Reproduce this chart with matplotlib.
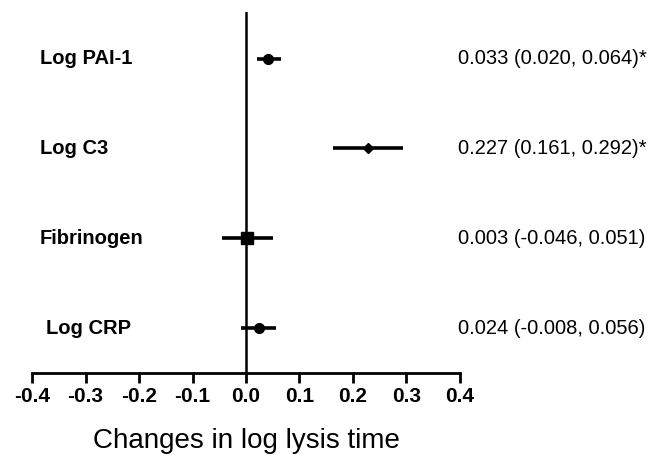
import numpy as np
import matplotlib.pyplot as plt

plt.rcParams['font.family'] = ['Liberation Sans', 'DejaVu Sans']

# data
names = ['Log PAI-1', 'Log C3', 'Fibrinogen', 'Log CRP']
est = [0.042, 0.228, 0.002, 0.024]
lo = [0.020, 0.163, -0.045, -0.009]
hi = [0.065, 0.293, 0.050, 0.056]
markers = ['o', 'D', 's', 'o']
labels = ['0.033 (0.020, 0.064)*', '0.227 (0.161, 0.292)*',
          '0.003 (-0.046, 0.051)', '0.024 (-0.008, 0.056)']
rows = [4, 3, 2, 1]
ticks = np.round(np.arange(-0.4, 0.41, 0.1), 1)

fig = plt.figure(figsize=(6.56, 4.55), dpi=100)
ax = fig.add_axes([0.049, 0.180, 0.652, 0.794])

ax.axvline(0, color='black', lw=1.8)
msize = {'o': 7, 'D': 5.5, 's': 8}
for i in range(len(names)):
    ax.plot([lo[i], hi[i]], [rows[i], rows[i]], color='black', lw=2.6,
            solid_capstyle='butt')
    ax.plot(est[i], rows[i], marker=markers[i], color='black',
            ms=msize[markers[i]])

ax.set_xlim(-0.4, 0.4)
ax.set_ylim(0.5, 4.52)
ax.set_xticks(ticks)
ax.set_xticklabels([f'{abs(t):.1f}' if t == 0 else f'{t:.1f}' for t in ticks],
                   fontsize=15, fontweight='bold')
ax.set_yticks([])
for s in ['top', 'right', 'left']:
    ax.spines[s].set_visible(False)
ax.spines['bottom'].set_linewidth(2)
ax.tick_params(axis='x', length=7, width=2, pad=3)
fig.text(246 / 656, 1 - 441 / 455, 'Changes in log lysis time', fontsize=20,
         ha='center', va='center')

# left names and right estimates
name_x = [40, 40, 40, 46]
for i in range(len(names)):
    yfig = ax.transData.transform((0, rows[i]))[1]
    fig.text(name_x[i] / 656, yfig / 455, names[i], fontsize=14.5,
             fontweight='bold', ha='left', va='center')
    fig.text(458 / 656, yfig / 455, labels[i], fontsize=14.5,
             ha='left', va='center',
             family=['Liberation Sans Narrow', 'Liberation Sans'])

fig.savefig('out.png', dpi=100)
